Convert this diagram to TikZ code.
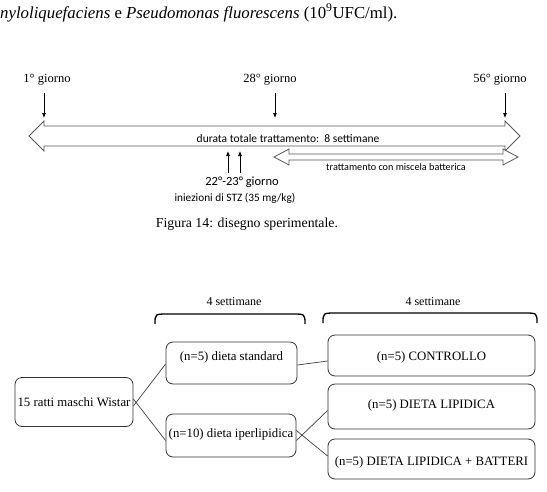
\documentclass[tikz,border=0pt]{standalone}
\usepackage{fontspec}
\setmainfont{Liberation Serif}
\newfontfamily\calfont{Carlito}
\usetikzlibrary{arrows.meta}
\begin{document}
\begin{tikzpicture}[x=1pt,y=-1pt,
  box/.style={draw=black!80,line width=0.8pt,rounded corners=7pt,inner sep=0pt},
  lab/.style={font=\fontsize{12.5}{14}\selectfont,inner sep=0pt},
  conn/.style={draw=black!75,line width=0.7pt},
  darr/.style={draw=black,line width=0.7pt,-{Latex[length=5pt,width=4pt]}},
  bigarr/.style={draw=black!65,line width=0.9pt,fill=white},
  brace/.style={draw=black,line width=1.3pt},
  bt/.style={font=\fontsize{12.8}{14}\selectfont,inner sep=0pt}]
\useasboundingbox (0,0) rectangle (547,491);
\node[anchor=west,inner sep=0pt,font=\fontsize{16.8}{18}\selectfont] (top) at (0,13)
  {\textit{nyloliquefaciens} e \textit{Pseudomonas fluorescens} (10\textsuperscript{9}UFC/ml).};
% timeline
\draw[bigarr] (29,136) -- (44,121) -- (44,126) -- (505,126) -- (505,121) -- (520,136)
  -- (505,151) -- (505,146) -- (44,146) -- (44,151) -- cycle;
\node[inner sep=0pt,font=\calfont\fontsize{11.5}{13}\selectfont] (dur) at (288,139) {durata totale trattamento:\ \ 8 settimane};
\draw[bigarr,line width=0.8pt] (274,157) -- (289,149) -- (289,154) -- (503,154) -- (503,149) -- (518,157)
  -- (503,165) -- (503,160) -- (289,160) -- (289,165) -- cycle;
\node[inner sep=0pt,font=\calfont\fontsize{10.2}{12}\selectfont] (mis) at (396,167) {trattamento con miscela batterica};
\node[lab] (g1) at (47,80) {1° giorno};
\node[lab] (g28) at (270,80) {28° giorno};
\node[lab] (g56) at (500,80) {56° giorno};
\coordinate (t1) at (44,118);
\coordinate (t28) at (275,118);
\coordinate (t56) at (505,118);
\draw[darr] (44,93) -- (t1);
\draw[darr] (275,93) -- (t28);
\draw[darr] (505,93) -- (t56);
\node[inner sep=0pt,font=\calfont\fontsize{12.5}{14}\selectfont] (g22) at (242,182) {22°-23° giorno};
\node[inner sep=0pt,font=\calfont\fontsize{11.3}{13}\selectfont] (stz) at (235,198) {iniezioni di STZ (35 mg/kg)};
\coordinate (u1) at (228,151);
\coordinate (u2) at (240,151);
\draw[darr] (228,173) -- (u1);
\draw[darr] (240,173) -- (u2);
\node[inner sep=0pt,font=\fontsize{13.8}{15}\selectfont] (cap) at (247,224) {Figura 14: disegno sperimentale.};
% bottom diagram
\node[lab,font=\fontsize{12}{14}\selectfont] (s1) at (234,302) {4 settimane};
\node[lab,font=\fontsize{12}{14}\selectfont] (s2) at (433,302) {4 settimane};
\draw[brace] (155,324) .. controls (155,314) .. (168,314) -- (292,314) .. controls (305,314) .. (305,324);
\draw[brace] (323,323) .. controls (323,313) .. (336,313) -- (524,313) .. controls (537,313) .. (537,323);
\node[box,minimum width=118pt,minimum height=49pt] (W) at (74,402) {};
\node[bt] at (74,402) {15 ratti maschi Wistar};
\node[box,minimum width=131pt,minimum height=42pt] (S) at (231.5,363) {};
\node[bt] at (231.5,357) {(n=5) dieta standard};
\node[box,minimum width=130pt,minimum height=43pt] (I) at (231,435.5) {};
\node[bt] at (231,434) {(n=10) dieta iperlipidica};
\node[box,minimum width=207pt,minimum height=41pt] (C) at (431.5,355.5) {};
\node[bt] at (431.5,357) {(n=5) CONTROLLO};
\node[box,minimum width=207pt,minimum height=45pt] (L) at (431.5,406.5) {};
\node[bt] at (431.5,405) {(n=5) DIETA LIPIDICA};
\node[box,minimum width=207pt,minimum height=40pt] (B) at (431.5,459) {};
\node[bt] at (431.5,462) {(n=5) DIETA LIPIDICA + BATTERI};
\draw[conn] ([yshift=-4pt]W.east) -- ([yshift=-1pt]S.west);
\draw[conn] ([yshift=3pt]W.east) -- ([yshift=-5pt]I.west);
\draw[conn] ([yshift=-2pt]S.east) -- ([yshift=-5.5pt]C.west);
\draw[conn] ([yshift=-5pt]I.east) -- ([yshift=-4pt]L.west);
\draw[conn] ([yshift=5pt]I.east) -- ([yshift=3pt]B.west);
\end{tikzpicture}
\end{document}
